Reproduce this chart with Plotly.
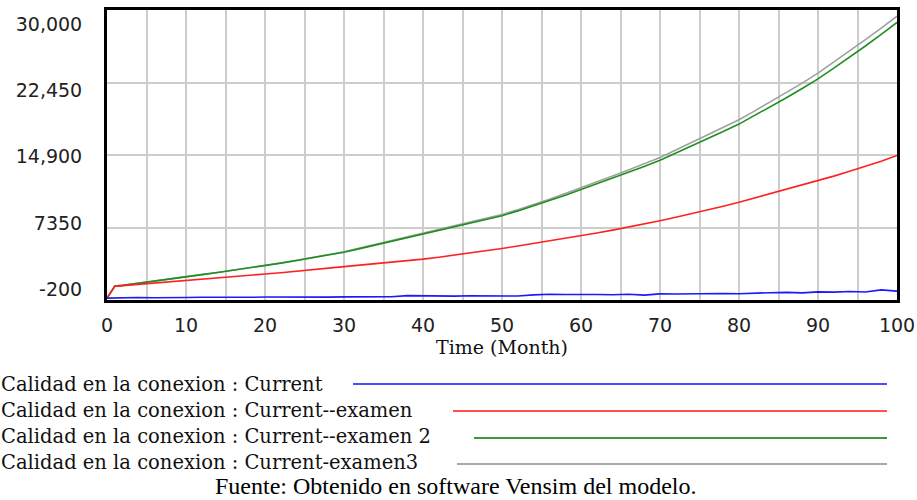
import plotly.graph_objects as go

# Simulation time (months)
months = [0, 1, 2, 4, 6, 8, 10, 12, 14, 16, 18, 20, 22, 24, 26, 28, 30, 32, 34, 36, 38, 40,
          42, 44, 46, 48, 50, 52, 54, 56, 58, 60, 62, 64, 66, 68, 70, 72, 74, 76, 78, 80,
          82, 84, 86, 88, 90, 92, 94, 96, 98, 100]

# Calidad en la conexion, one list per run
current = [0, 20, 40, 60, 30, 80, 60, 90, 70, 100, 80, 110, 90, 140, 120, 100, 130, 120,
           160, 140, 260, 220, 240, 200, 250, 220, 240, 210, 330, 400, 370, 410, 380, 350,
           400, 310, 440, 420, 450, 430, 470, 450, 470, 560, 590, 540, 650, 620, 680, 640,
           850, 720]
examen = [0, 1250, 1300, 1440, 1580, 1730, 1880, 2000, 2110, 2230, 2370, 2510, 2640, 2780,
          2940, 3110, 3280, 3430, 3580, 3740, 3900, 4060, 4260, 4470, 4680, 4910, 5170, 5420,
          5680, 5950, 6220, 6480, 6780, 7080, 7390, 7710, 8050, 8410, 8780, 9160, 9560, 9980,
          10420, 10870, 11330, 11760, 12200, 12700, 13200, 13710, 14260, 14850]
examen2 = [0, 1250, 1320, 1530, 1760, 1990, 2220, 2440, 2670, 2900, 3130, 3370, 3640, 3920,
           4200, 4490, 4780, 5150, 5530, 5900, 6270, 6650, 7030, 7410, 7790, 8180, 8580, 9080,
           9600, 10150, 10720, 11300, 11890, 12480, 13080, 13710, 14350, 15080, 15820, 16570,
           17340, 18120, 19020, 19930, 20860, 21830, 22820, 23940, 25080, 26250, 27460, 28700]
examen3 = [0, 1250, 1320, 1530, 1760, 1990, 2220, 2440, 2670, 2900, 3130, 3380, 3650, 3930,
           4220, 4520, 4820, 5200, 5590, 5960, 6340, 6730, 7120, 7510, 7900, 8300, 8700, 9210,
           9740, 10300, 10890, 11480, 12100, 12710, 13340, 14000, 14650, 15410, 16180, 16960,
           17760, 18570, 19490, 20430, 21390, 22390, 23420, 24560, 25720, 26910, 28120, 29350]

series_names = [
    "Calidad en la conexion : Current",
    "Calidad en la conexion : Current--examen",
    "Calidad en la conexion : Current--examen 2",
    "Calidad en la conexion : Current-examen3",
]
series_values = [current, examen, examen2, examen3]
colors = ["#1a1aff", "#ff2020", "#1f8f1f", "#a0a0a0"]
legend_colors = ["#4d4dff", "#ff5050", "#3a9a3a", "#a8a8a8"]

y_ticks = [-200, 7350, 14900, 22450, 30000]
y_tick_text = ["-200", "7350", "14,900", "22,450", "30,000"]
x_ticks = [0, 10, 20, 30, 40, 50, 60, 70, 80, 90, 100]

# plot frame in pixels
W, H = 917, 500
L, R, T, B = 107, 897, 10, 300

fig = go.Figure()

# later runs are drawn first so the earlier ones sit on top
for name, vals, col in reversed(list(zip(series_names, series_values, colors))):
    fig.add_trace(go.Scatter(x=months, y=vals, mode="lines", name=name,
                             line=dict(color=col, width=1.6), showlegend=False))

# carrier for the label axis
fig.add_trace(go.Scatter(x=[None], y=[None], yaxis="y2", showlegend=False,
                         hoverinfo="skip"))

grid = "#cdcdcd"
tick_font = dict(family="DejaVu Sans", size=19, color="#222222")
serif = "DejaVu Serif"

fig.update_layout(
    width=W, height=H,
    margin=dict(l=L, r=W - R, t=T, b=H - B, pad=0, autoexpand=False),
    paper_bgcolor="white", plot_bgcolor="white",
    xaxis=dict(
        range=[0, 100], tickvals=x_ticks, ticks="outside", ticklen=6,
        tickcolor="rgba(0,0,0,0)", tickfont=tick_font, automargin=False,
        showgrid=True, gridcolor=grid, gridwidth=2,
        minor=dict(dtick=5, tick0=0, showgrid=True, gridcolor=grid, gridwidth=2),
        showline=True, linecolor="black", linewidth=3, mirror=True, zeroline=False,
        title=dict(text="Time (Month)", font=dict(family=serif, size=19, color="#111111"),
                   standoff=2),
    ),
    yaxis=dict(
        range=[-200, 30000], tickvals=y_ticks, showticklabels=False, ticks="",
        showgrid=True, gridcolor=grid, gridwidth=2, automargin=False,
        showline=True, linecolor="black", linewidth=3, mirror=True, zeroline=False,
    ),
    yaxis2=dict(
        overlaying="y", side="left", range=[-1394, 31592],
        tickvals=y_ticks, ticktext=y_tick_text, tickfont=tick_font,
        ticks="outside", ticklen=20, tickcolor="rgba(0,0,0,0)", automargin=False,
        showgrid=False, zeroline=False, showline=False,
    ),
)

# legend rows: text on the left, a long sample line on the right
text_y = [384, 410, 436, 462]
line_y = [384, 411, 438, 464]
line_start = [353, 453, 474, 457]
line_end = 887


def px_x(p):
    return (p - L) / (R - L)


def px_y(p):
    return (B - p) / (B - T)


for name, col, ty, ly, x0 in zip(series_names, legend_colors, text_y, line_y, line_start):
    fig.add_annotation(x=px_x(0), y=px_y(ty), xref="paper", yref="paper",
                       text=name, showarrow=False, xanchor="left", yanchor="middle",
                       borderpad=0,
                       font=dict(family=serif, size=19.5, color="#111111"))
    fig.add_shape(type="line", xref="paper", yref="paper",
                  x0=px_x(x0), x1=px_x(line_end), y0=px_y(ly), y1=px_y(ly),
                  line=dict(color=col, width=2))

fig.add_annotation(x=px_x(455), y=px_y(500), xref="paper", yref="paper",
                   text="Fuente: Obtenido en software Vensim del modelo.",
                   showarrow=False, xanchor="center", yanchor="bottom", borderpad=0,
                   font=dict(family="Liberation Serif", size=24, color="black"))

fig.write_html("out.html")
